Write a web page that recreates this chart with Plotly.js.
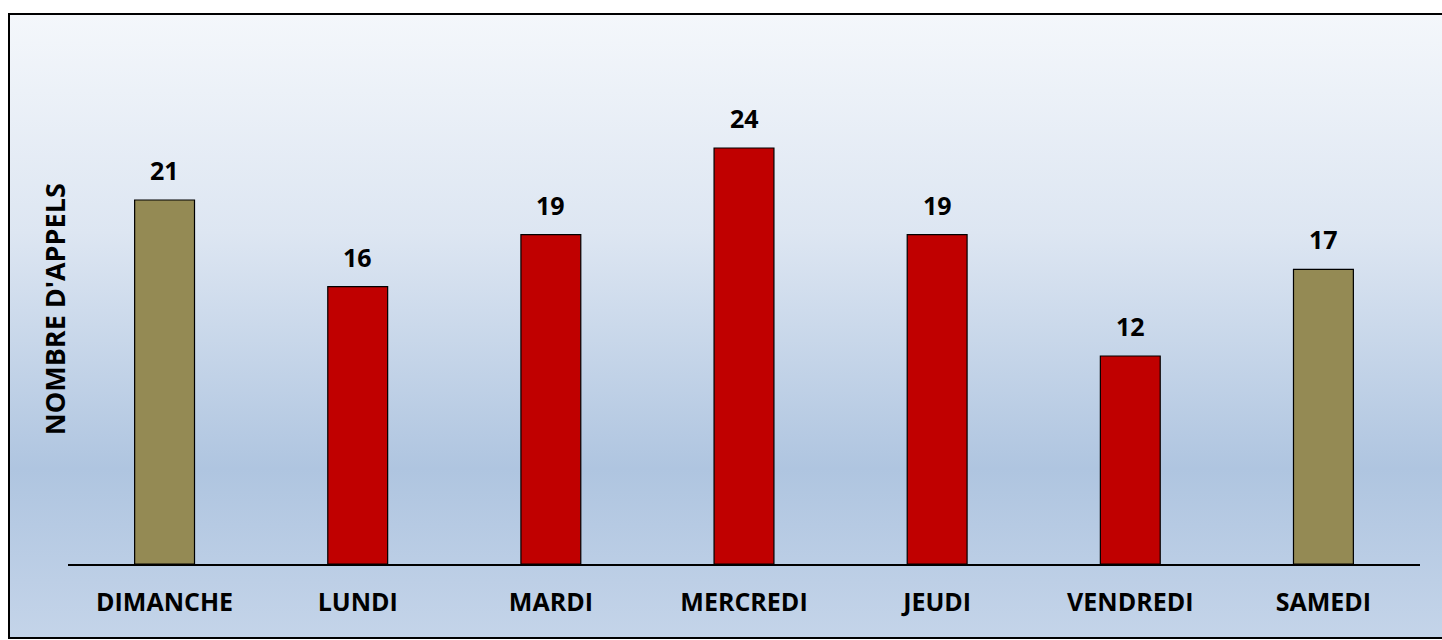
<!DOCTYPE html>
<html>
<head>
<meta charset="utf-8">
<script src="https://cdn.plot.ly/plotly-3.0.1.min.js"></script>
<style>
  html, body { margin: 0; padding: 0; width: 1442px; height: 640px; overflow: hidden; background: #ffffff; }
  #frame {
    position: absolute; left: 8px; top: 13px; width: 1460px; height: 622px;
    border: 2px solid #000000;
    background: linear-gradient(to bottom, #f4f7fb 0%, #dde6f2 35%, #afc5e0 73%, #c4d4e9 100%);
  }
  #chart { position: absolute; left: 0; top: 0; width: 1442px; height: 640px; }
</style>
</head>
<body>
<div id="frame"></div>
<div id="chart"></div>
<script>
const days = ["DIMANCHE", "LUNDI", "MARDI", "MERCREDI", "JEUDI", "VENDREDI", "SAMEDI"];
const calls = [21, 16, 19, 24, 19, 12, 17];
const barColors = ["#948A54", "#C00000", "#C00000", "#C00000", "#C00000", "#C00000", "#948A54"];
const yTitle = "NOMBRE D'APPELS";

const FONT = "'Open Sans', 'DejaVu Sans', sans-serif";

const trace = {
  type: "bar",
  x: days,
  y: calls,
  width: 0.31,
  marker: { color: barColors, line: { color: "#000000", width: 1.2 } },
  hoverinfo: "x+y"
};

const annotations = days.map((d, i) => ({
  x: d, y: calls[i], xref: "x", yref: "y",
  text: String(calls[i]),
  showarrow: false, yanchor: "bottom", yshift: 11,
  font: { family: FONT, size: 25, color: "#000000", weight: 700 }
}));
annotations.push({
  x: 0, y: 0.49, xref: "paper", yref: "paper",
  text: yTitle, textangle: -90, showarrow: false,
  xanchor: "center", yanchor: "middle", xshift: -14,
  font: { family: FONT, size: 27, color: "#000000", weight: 700 }
});

const layout = {
  width: 1442, height: 640,
  margin: { l: 68, r: 22, t: 44, b: 76 },
  paper_bgcolor: "rgba(0,0,0,0)",
  plot_bgcolor: "rgba(0,0,0,0)",
  showlegend: false,
  bargap: 0.69,
  xaxis: {
    type: "category",
    showline: true, linecolor: "#000000", linewidth: 2,
    showgrid: false, zeroline: false, ticks: "",
    ticklabelstandoff: 15,
    tickfont: { family: FONT, size: 25, color: "#000000", weight: 700 }
  },
  yaxis: {
    range: [0, 30], showgrid: false, zeroline: false,
    showticklabels: false, ticks: "", showline: false
  },
  annotations: annotations
};

Plotly.newPlot("chart", [trace], layout, { displayModeBar: false, staticPlot: true });
</script>
</body>
</html>
